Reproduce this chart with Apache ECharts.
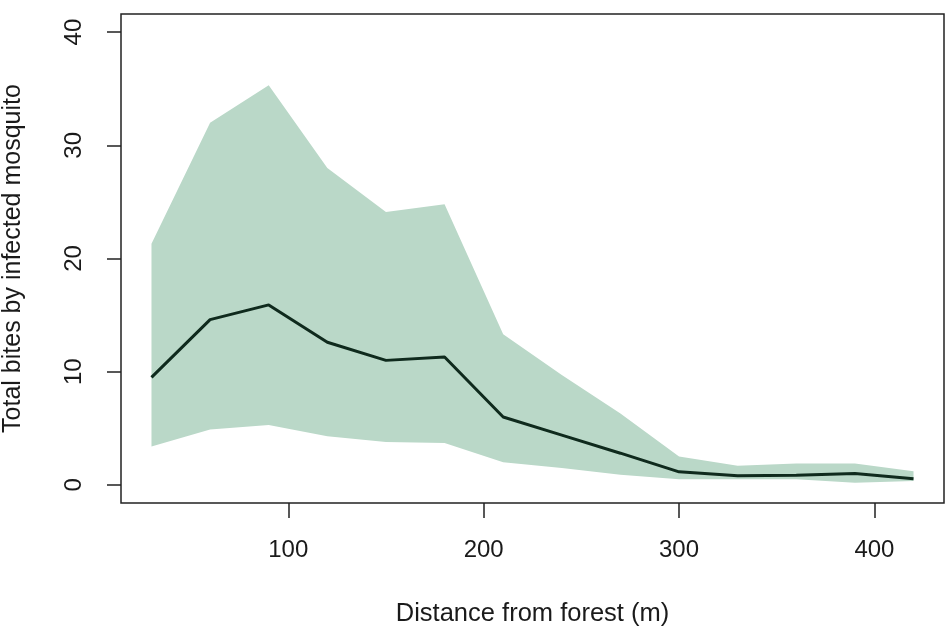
<!DOCTYPE html>
<html>
<head>
<meta charset="utf-8">
<script src="https://cdn.jsdelivr.net/npm/echarts@6/dist/echarts.min.js"></script>
<style>
  html, body { margin: 0; padding: 0; background: #fff; }
  #main { width: 946px; height: 631px; }
</style>
</head>
<body>
<div id="main"></div>
<script>
  // distance from forest (m)
  const distance = [30, 60, 90, 120, 150, 180, 210, 240, 270, 300, 330, 360, 390, 420];
  // mean total bites and the interval around it
  const meanBites = [9.5, 14.6, 15.9, 12.6, 11.0, 11.3, 6.0, 4.4, 2.8, 1.15, 0.8, 0.85, 1.0, 0.55];
  const lowerBites = [3.4, 4.9, 5.3, 4.3, 3.8, 3.7, 2.0, 1.5, 0.9, 0.5, 0.5, 0.5, 0.2, 0.35];
  const upperBites = [21.3, 32.0, 35.3, 28.0, 24.1, 24.8, 13.3, 9.7, 6.3, 2.5, 1.7, 1.9, 1.9, 1.2];

  const xTicks = [100, 200, 300, 400];
  const yTicks = [0, 10, 20, 30, 40];

  const font = '"Liberation Sans", Arial, sans-serif';
  const textColor = '#1a1a1a';

  const bandData = distance.map((d, i) => [d, lowerBites[i], upperBites[i]]);

  const chart = echarts.init(document.getElementById('main'));
  const option = {
    animation: false,
    grid: {
      left: 121, right: 2, top: 14, bottom: 128,
      outerBoundsMode: 'none',
      containLabel: false,
      show: true,
      borderColor: '#222',
      borderWidth: 1.5
    },
    xAxis: {
      type: 'value',
      min: 14.4,
      max: 435.6,
      name: 'Distance from forest (m)',
      nameLocation: 'middle',
      nameGap: 98,
      nameTextStyle: { fontFamily: font, fontSize: 25.5, color: textColor },
      axisLine: { show: false, onZero: false },
      splitLine: { show: false },
      axisTick: { show: true, length: 15, inside: false, customValues: xTicks, lineStyle: { color: '#222', width: 1.5 } },
      axisLabel: { customValues: xTicks, margin: 35, fontFamily: font, fontSize: 24, color: textColor }
    },
    yAxis: {
      type: 'value',
      min: -1.6,
      max: 41.6,
      name: 'Total bites by infected mosquito',
      nameLocation: 'middle',
      nameGap: 95,
      nameTextStyle: { fontFamily: font, fontSize: 25, color: textColor },
      axisLine: { show: false, onZero: false },
      splitLine: { show: false },
      axisTick: { show: true, length: 14, inside: false, customValues: yTicks, lineStyle: { color: '#222', width: 1.5 } },
      axisLabel: { customValues: yTicks, rotate: 90, margin: 35, fontFamily: font, fontSize: 24, color: textColor }
    },
    series: [
      {
        type: 'custom',
        silent: true,
        data: bandData,
        encode: { x: 0, y: [1, 2] },
        renderItem: function (params, api) {
          if (params.dataIndex !== 0) return;
          const top = bandData.map(p => api.coord([p[0], p[2]]));
          const bottom = bandData.slice().reverse().map(p => api.coord([p[0], p[1]]));
          return {
            type: 'polygon',
            shape: { points: top.concat(bottom) },
            style: { fill: '#bad8c8' }
          };
        }
      },
      {
        type: 'line',
        data: distance.map((d, i) => [d, meanBites[i]]),
        symbol: 'none',
        lineStyle: { color: '#0f2a1d', width: 3 }
      }
    ]
  };
  chart.setOption(option);
</script>
</body>
</html>
